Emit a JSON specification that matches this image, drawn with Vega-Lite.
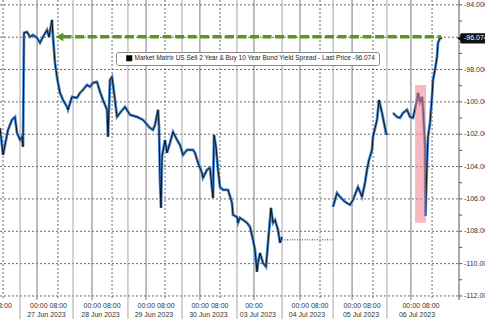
{
  "$schema": "https://vega.github.io/schema/vega-lite/v6.json",
  "width": 459,
  "height": 300,
  "autosize": "none",
  "padding": {"left": 0, "top": 0, "right": 26, "bottom": 19},
  "background": "#ffffff",
  "config": {"view": {"stroke": null}, "font": "Liberation Sans"},
  "datasets": {
    "series": [
      {"t": -9.2, "v": -101.61, "s": "A"}, {"t": -7.8, "v": -103.28, "s": "A"}, {"t": -6.45, "v": -102.35, "s": "A"},
      {"t": -5.53, "v": -101.73, "s": "A"}, {"t": -3.7, "v": -101.11, "s": "A"}, {"t": -2.32, "v": -100.93, "s": "A"},
      {"t": -1.4, "v": -101.92, "s": "A"}, {"t": 0.0, "v": -102.35, "s": "A"}, {"t": 0.89, "v": -102.16, "s": "A"},
      {"t": 1.35, "v": -102.78, "s": "A"}, {"t": 1.81, "v": -95.73, "s": "A"}, {"t": 3.19, "v": -95.67, "s": "A"},
      {"t": 4.56, "v": -95.98, "s": "A"}, {"t": 5.94, "v": -95.86, "s": "A"}, {"t": 7.77, "v": -96.04, "s": "A"},
      {"t": 9.15, "v": -96.35, "s": "A"}, {"t": 10.52, "v": -95.98, "s": "A"}, {"t": 12.36, "v": -95.55, "s": "A"},
      {"t": 13.28, "v": -95.98, "s": "A"}, {"t": 14.65, "v": -94.93, "s": "A"}, {"t": 15.11, "v": -95.98, "s": "A"},
      {"t": 16.03, "v": -97.59, "s": "A"}, {"t": 16.95, "v": -98.45, "s": "A"}, {"t": 17.41, "v": -98.82, "s": "A"},
      {"t": 18.32, "v": -99.44, "s": "A"}, {"t": 19.7, "v": -99.88, "s": "A"}, {"t": 21.53, "v": -100.31, "s": "A"},
      {"t": 22.0, "v": -100.49, "s": "A"}, {"t": 23.83, "v": -99.69, "s": "A"}, {"t": 26.12, "v": -99.75, "s": "A"},
      {"t": 27.5, "v": -99.44, "s": "A"}, {"t": 28.87, "v": -99.26, "s": "A"}, {"t": 30.71, "v": -98.95, "s": "A"},
      {"t": 32.08, "v": -99.07, "s": "A"}, {"t": 33.46, "v": -98.82, "s": "A"}, {"t": 35.3, "v": -98.76, "s": "A"},
      {"t": 36.67, "v": -99.38, "s": "A"}, {"t": 38.05, "v": -99.88, "s": "A"}, {"t": 39.88, "v": -100.49, "s": "A"},
      {"t": 40.34, "v": -102.16, "s": "A"}, {"t": 41.26, "v": -98.64, "s": "A"}, {"t": 42.18, "v": -98.45, "s": "A"},
      {"t": 43.55, "v": -99.88, "s": "A"}, {"t": 44.47, "v": -100.93, "s": "A"}, {"t": 45.85, "v": -100.68, "s": "A"},
      {"t": 48.14, "v": -100.31, "s": "A"}, {"t": 50.43, "v": -100.8, "s": "A"}, {"t": 53.64, "v": -100.93, "s": "A"},
      {"t": 56.39, "v": -101.11, "s": "A"}, {"t": 59.61, "v": -101.61, "s": "A"}, {"t": 60.98, "v": -101.73, "s": "A"},
      {"t": 61.9, "v": -101.42, "s": "A"}, {"t": 63.28, "v": -100.49, "s": "A"}, {"t": 63.74, "v": -101.54, "s": "A"},
      {"t": 64.19, "v": -104.82, "s": "A"}, {"t": 64.65, "v": -106.55, "s": "A"}, {"t": 65.11, "v": -103.4, "s": "A"},
      {"t": 66.49, "v": -102.35, "s": "A"}, {"t": 67.41, "v": -103.15, "s": "A"}, {"t": 68.78, "v": -102.53, "s": "A"},
      {"t": 70.16, "v": -101.85, "s": "A"}, {"t": 71.99, "v": -102.35, "s": "A"}, {"t": 73.37, "v": -102.66, "s": "A"},
      {"t": 74.74, "v": -103.28, "s": "A"}, {"t": 76.58, "v": -102.97, "s": "A"}, {"t": 79.33, "v": -102.97, "s": "A"},
      {"t": 80.25, "v": -103.15, "s": "A"}, {"t": 81.63, "v": -103.77, "s": "A"}, {"t": 83.46, "v": -104.39, "s": "A"},
      {"t": 83.92, "v": -104.7, "s": "A"}, {"t": 85.76, "v": -104.2, "s": "A"}, {"t": 87.13, "v": -104.08, "s": "A"},
      {"t": 88.51, "v": -105.94, "s": "A"}, {"t": 88.97, "v": -102.04, "s": "A"}, {"t": 89.88, "v": -102.78, "s": "A"},
      {"t": 90.8, "v": -104.2, "s": "A"}, {"t": 91.72, "v": -105.26, "s": "A"}, {"t": 93.09, "v": -105.44, "s": "A"},
      {"t": 95.39, "v": -105.44, "s": "A"}, {"t": 97.22, "v": -106.24, "s": "A"}, {"t": 97.68, "v": -106.99, "s": "A"},
      {"t": 99.52, "v": -107.11, "s": "A"}, {"t": 99.98, "v": -107.48, "s": "A"}, {"t": 100.89, "v": -107.17, "s": "A"},
      {"t": 102.27, "v": -107.3, "s": "A"}, {"t": 104.1, "v": -107.48, "s": "A"}, {"t": 105.48, "v": -107.73, "s": "A"},
      {"t": 106.86, "v": -108.53, "s": "A"}, {"t": 107.77, "v": -109.15, "s": "A"}, {"t": 108.69, "v": -110.51, "s": "A"},
      {"t": 109.15, "v": -109.96, "s": "A"}, {"t": 110.07, "v": -109.34, "s": "A"}, {"t": 111.44, "v": -109.96, "s": "A"},
      {"t": 112.82, "v": -110.2, "s": "A"}, {"t": 113.74, "v": -108.72, "s": "A"}, {"t": 115.11, "v": -106.55, "s": "A"},
      {"t": 116.03, "v": -107.48, "s": "A"}, {"t": 116.95, "v": -107.3, "s": "A"}, {"t": 118.32, "v": -107.91, "s": "A"},
      {"t": 119.24, "v": -108.72, "s": "A"}, {"t": 120.16, "v": -108.35, "s": "A"},
      {"t": 143.56, "v": -106.49, "s": "B"}, {"t": 145.39, "v": -105.63, "s": "B"}, {"t": 146.77, "v": -105.87, "s": "B"},
      {"t": 149.06, "v": -106.18, "s": "B"}, {"t": 151.35, "v": -106.37, "s": "B"}, {"t": 152.73, "v": -106.06, "s": "B"},
      {"t": 155.02, "v": -105.26, "s": "B"}, {"t": 156.86, "v": -105.87, "s": "B"}, {"t": 158.23, "v": -105.01, "s": "B"},
      {"t": 159.15, "v": -104.2, "s": "B"}, {"t": 160.07, "v": -103.59, "s": "B"}, {"t": 161.44, "v": -102.97, "s": "B"},
      {"t": 161.9, "v": -102.16, "s": "B"}, {"t": 163.74, "v": -101.11, "s": "B"}, {"t": 164.66, "v": -99.88, "s": "B"},
      {"t": 166.03, "v": -100.68, "s": "B"}, {"t": 166.49, "v": -100.99, "s": "B"}, {"t": 167.87, "v": -101.92, "s": "B"},
      {"t": 168.33, "v": -102.04, "s": "B"},
      {"t": 171.08, "v": -100.68, "s": "C"}, {"t": 172.91, "v": -100.93, "s": "C"}, {"t": 174.29, "v": -100.99, "s": "C"},
      {"t": 175.67, "v": -100.68, "s": "C"}, {"t": 177.5, "v": -100.49, "s": "C"}, {"t": 178.88, "v": -100.93, "s": "C"},
      {"t": 180.25, "v": -100.99, "s": "C"}, {"t": 182.09, "v": -99.88, "s": "C"}, {"t": 182.55, "v": -99.44, "s": "C"},
      {"t": 183.46, "v": -100.0, "s": "C"}, {"t": 184.38, "v": -99.69, "s": "C"}, {"t": 184.84, "v": -100.31, "s": "C"},
      {"t": 185.76, "v": -102.78, "s": "C"}, {"t": 185.98, "v": -107.05, "s": "C"}, {"t": 186.21, "v": -105.87, "s": "C"},
      {"t": 186.67, "v": -103.77, "s": "C"}, {"t": 187.13, "v": -102.16, "s": "C"}, {"t": 188.05, "v": -101.3, "s": "C"},
      {"t": 188.97, "v": -99.69, "s": "C"}, {"t": 189.43, "v": -98.64, "s": "C"}, {"t": 190.34, "v": -98.02, "s": "C"},
      {"t": 191.26, "v": -97.22, "s": "C"}, {"t": 191.72, "v": -96.35, "s": "C"}, {"t": 192.64, "v": -96.04, "s": "C"},
      {"t": 193.56, "v": -96.074, "s": "C"}
    ],
    "grid": [
      {"t": 0.0, "kind": "sep"}, {"t": 24.3, "kind": "sep"}, {"t": 49.5, "kind": "sep"}, {"t": 74.3, "kind": "sep"},
      {"t": 99.5, "kind": "sep"}, {"t": 120.2, "kind": "sep"}, {"t": 143.6, "kind": "sep"}, {"t": 168.3, "kind": "sep"},
      {"t": 7.8, "kind": "midnight"}, {"t": 33.0, "kind": "midnight"}, {"t": 57.8, "kind": "midnight"}, {"t": 82.5, "kind": "midnight"},
      {"t": 107.3, "kind": "midnight"}, {"t": 128.4, "kind": "midnight"}, {"t": 152.3, "kind": "midnight"}, {"t": 179.3, "kind": "midnight"},
      {"t": -7.8, "kind": "eight"}, {"t": 17.4, "kind": "eight"}, {"t": 42.2, "kind": "eight"}, {"t": 66.5, "kind": "eight"},
      {"t": 91.7, "kind": "eight"}, {"t": 137.6, "kind": "eight"}, {"t": 161.9, "kind": "eight"}, {"t": 189.0, "kind": "eight"}
    ],
    "yticks": [
      {"v": -112, "major": true, "label": "-112.000"}, {"v": -111, "major": false, "label": ""},
      {"v": -110, "major": true, "label": "-110.000"}, {"v": -109, "major": false, "label": ""},
      {"v": -108, "major": true, "label": "-108.000"}, {"v": -107, "major": false, "label": ""},
      {"v": -106, "major": true, "label": "-106.000"}, {"v": -105, "major": false, "label": ""},
      {"v": -104, "major": true, "label": "-104.000"}, {"v": -103, "major": false, "label": ""},
      {"v": -102, "major": true, "label": "-102.000"}, {"v": -101, "major": false, "label": ""},
      {"v": -100, "major": true, "label": "-100.000"}, {"v": -99, "major": false, "label": ""},
      {"v": -98, "major": true, "label": "-98.000"}, {"v": -97, "major": false, "label": ""},
      {"v": -96, "major": true, "label": "-96.000"}, {"v": -95, "major": false, "label": ""},
      {"v": -94, "major": true, "label": "-94.000"}
    ],
    "xlabels": [
      {"t": -7.8, "row": 1, "text": "08:00"},
      {"t": 13.05, "row": 1, "text": "00:00 08:00"}, {"t": 12.1, "row": 2, "text": "27 Jun 2023"},
      {"t": 37.6, "row": 1, "text": "00:00 08:00"}, {"t": 36.9, "row": 2, "text": "28 Jun 2023"},
      {"t": 62.4, "row": 1, "text": "00:00 08:00"}, {"t": 61.4, "row": 2, "text": "29 Jun 2023"},
      {"t": 87.1, "row": 1, "text": "00:00 08:00"}, {"t": 86.4, "row": 2, "text": "30 Jun 2023"},
      {"t": 107.3, "row": 1, "text": "00:00"}, {"t": 109.1, "row": 2, "text": "03 Jul 2023"},
      {"t": 133.0, "row": 1, "text": "00:00 08:00"}, {"t": 131.6, "row": 2, "text": "04 Jul 2023"},
      {"t": 156.9, "row": 1, "text": "00:00 08:00"}, {"t": 156.4, "row": 2, "text": "05 Jul 2023"},
      {"t": 183.9, "row": 1, "text": "00:00 08:00"}, {"t": 182.1, "row": 2, "text": "06 Jul 2023"}
    ],
    "notes": [
      {"part": "gap", "t": 120.16, "t2": 143.56, "v": -108.53, "v2": -108.53},
      {"part": "arrow", "t": 19.5, "t2": 193.1, "v": -95.98, "v2": -95.98},
      {"part": "head", "t": 18.1, "t2": 18.1, "v": -95.98, "v2": -95.98},
      {"part": "box", "t": 181.2, "t2": 186.2, "v": -98.95, "v2": -107.48},
      {"part": "last", "t": 201.35, "t2": 201.35, "v": -96.074, "v2": -96.074}
    ]
  },
  "layer": [
    {
      "data": {"name": "notes"},
      "transform": [{"filter": "datum.part === 'gap'"}],
      "mark": {"type": "rule", "color": "#333333", "strokeWidth": 1, "strokeDash": [1, 1.5]},
      "encoding": {
        "x": {"field": "t", "type": "quantitative", "scale": {"domain": [-9.2, 201.35], "nice": false, "zero": false}, "axis": null},
        "x2": {"field": "t2"},
        "y": {"field": "v", "type": "quantitative", "scale": {"domain": [-112.25, -93.7], "nice": false, "zero": false}, "axis": null}
      }
    },
    {
      "data": {"name": "yticks"},
      "transform": [{"filter": "datum.major"}],
      "mark": {"type": "rule", "color": "#6a6a6a", "strokeWidth": 1, "strokeDash": [2, 2]},
      "encoding": {
        "x": {"datum": -9.2, "type": "quantitative", "axis": null},
        "x2": {"datum": 201.35},
        "y": {"field": "v", "type": "quantitative", "axis": null}
      }
    },
    {
      "data": {"name": "grid"},
      "transform": [{"filter": "datum.kind === 'sep'"}],
      "mark": {"type": "rule", "color": "#a6a6a6", "strokeWidth": 1, "clip": false},
      "encoding": {
        "x": {"field": "t", "type": "quantitative", "axis": null},
        "y": {"datum": -93.7, "type": "quantitative", "axis": null},
        "y2": {"datum": -113.45}
      }
    },
    {
      "data": {"name": "grid"},
      "transform": [{"filter": "datum.kind === 'midnight'"}],
      "mark": {"type": "rule", "color": "#7a7a7a", "strokeWidth": 1},
      "encoding": {
        "x": {"field": "t", "type": "quantitative", "axis": null},
        "y": {"datum": -93.7, "type": "quantitative", "axis": null},
        "y2": {"datum": -112.25}
      }
    },
    {
      "data": {"name": "grid"},
      "transform": [{"filter": "datum.kind === 'eight'"}],
      "mark": {"type": "rule", "color": "#6a6a6a", "strokeWidth": 1, "strokeDash": [2, 2]},
      "encoding": {
        "x": {"field": "t", "type": "quantitative", "axis": null},
        "y": {"datum": -93.7, "type": "quantitative", "axis": null},
        "y2": {"datum": -112.25}
      }
    },
    {
      "data": {"name": "series"},
      "mark": {"type": "line", "color": "#4a8ad4", "strokeWidth": 2.8},
      "encoding": {
        "x": {"field": "t", "type": "quantitative", "axis": null},
        "y": {"field": "v", "type": "quantitative", "axis": null},
        "detail": {"field": "s"}
      }
    },
    {
      "data": {"name": "series"},
      "mark": {"type": "line", "strokeWidth": 1},
      "encoding": {
        "x": {"field": "t", "type": "quantitative", "axis": null},
        "y": {"field": "v", "type": "quantitative", "axis": null},
        "detail": {"field": "s"},
        "color": {
          "datum": "Market Matrix US Sell 2 Year & Buy 10 Year Bond Yield Spread - Last Price -96.074",
          "scale": {"range": ["#111111"]},
          "legend": {
            "title": null, "orient": "none", "legendX": 116, "legendY": 52,
            "fillColor": "#ffffff", "strokeColor": "#8a8a8a", "cornerRadius": 2, "padding": 3,
            "symbolType": "square", "symbolSize": 36, "symbolFillColor": "#000000", "symbolStrokeColor": "#000000",
            "symbolStrokeWidth": 0, "symbolOffset": 7, "labelOffset": 2,
            "labelFont": "Liberation Sans", "labelFontSize": 6.5, "labelColor": "#222222", "labelLimit": 400
          }
        }
      }
    },
    {
      "data": {"name": "notes"},
      "transform": [{"filter": "datum.part === 'box'"}],
      "mark": {"type": "rect", "color": "#ef7f8a", "opacity": 0.55},
      "encoding": {
        "x": {"field": "t", "type": "quantitative", "axis": null},
        "x2": {"field": "t2"},
        "y": {"field": "v", "type": "quantitative", "axis": null},
        "y2": {"field": "v2"}
      }
    },
    {
      "data": {"name": "notes"},
      "transform": [{"filter": "datum.part === 'arrow'"}],
      "mark": {"type": "rule", "color": "#5e9420", "strokeWidth": 3.5, "strokeDash": [9, 3.5]},
      "encoding": {
        "x": {"field": "t", "type": "quantitative", "axis": null},
        "x2": {"field": "t2"},
        "y": {"field": "v", "type": "quantitative", "axis": null}
      }
    },
    {
      "data": {"name": "notes"},
      "transform": [{"filter": "datum.part === 'head'"}],
      "mark": {"type": "point", "shape": "triangle-left", "filled": true, "color": "#5e9420", "size": 80, "opacity": 1},
      "encoding": {
        "x": {"field": "t", "type": "quantitative", "axis": null},
        "y": {"field": "v", "type": "quantitative", "axis": null}
      }
    },
    {
      "data": {"name": "xlabels"},
      "transform": [{"filter": "datum.row === 1"}],
      "mark": {"type": "text", "font": "Liberation Sans", "fontSize": 7, "color": "#333333", "baseline": "middle", "clip": false},
      "encoding": {
        "x": {"field": "t", "type": "quantitative", "axis": null},
        "y": {"datum": -112.62, "type": "quantitative", "axis": null},
        "text": {"field": "text"}
      }
    },
    {
      "data": {"name": "xlabels"},
      "transform": [{"filter": "datum.row === 2"}],
      "mark": {"type": "text", "font": "Liberation Sans", "fontSize": 7, "color": "#333333", "baseline": "middle", "clip": false},
      "encoding": {
        "x": {"field": "t", "type": "quantitative", "axis": null},
        "y": {"datum": -113.17, "type": "quantitative", "axis": null},
        "text": {"field": "text"}
      }
    },
    {
      "data": {"name": "notes"},
      "transform": [{"filter": "datum.part === 'last'"}],
      "mark": {"type": "rule", "color": "#555555", "strokeWidth": 1, "clip": false},
      "encoding": {
        "x": {"field": "t", "type": "quantitative", "axis": null},
        "y": {"datum": -93.7, "type": "quantitative", "axis": null},
        "y2": {"datum": -112.25}
      }
    },
    {
      "data": {"name": "yticks"},
      "mark": {"type": "rule", "color": "#555555", "strokeWidth": 1, "clip": false},
      "encoding": {
        "x": {"datum": 201.35, "type": "quantitative", "axis": null},
        "x2": {"datum": 202.75},
        "y": {"field": "v", "type": "quantitative", "axis": null}
      }
    },
    {
      "data": {"name": "yticks"},
      "transform": [{"filter": "datum.major"}],
      "mark": {"type": "text", "font": "Liberation Sans", "fontSize": 7, "color": "#333333", "align": "left", "baseline": "middle", "dx": 5, "clip": false},
      "encoding": {
        "x": {"datum": 201.35, "type": "quantitative", "axis": null},
        "y": {"field": "v", "type": "quantitative", "axis": null},
        "text": {"field": "label"}
      }
    },
    {
      "data": {"name": "notes"},
      "transform": [{"filter": "datum.part === 'last'"}],
      "mark": {"type": "rect", "color": "#111111", "cornerRadius": 1.5, "clip": false},
      "encoding": {
        "x": {"datum": 201.9, "type": "quantitative", "axis": null},
        "x2": {"datum": 214},
        "y": {"datum": -95.76, "type": "quantitative", "axis": null},
        "y2": {"datum": -96.39}
      }
    },
    {
      "data": {"name": "notes"},
      "transform": [{"filter": "datum.part === 'last'"}],
      "mark": {"type": "point", "shape": "triangle-left", "filled": true, "color": "#111111", "size": 22, "opacity": 1, "clip": false, "dx": 2},
      "encoding": {
        "x": {"field": "t", "type": "quantitative", "axis": null},
        "y": {"field": "v", "type": "quantitative", "axis": null}
      }
    },
    {
      "data": {"name": "notes"},
      "transform": [{"filter": "datum.part === 'last'"}],
      "mark": {"type": "text", "font": "Liberation Sans", "fontSize": 7, "color": "#ffffff", "align": "left", "baseline": "middle", "dx": 5, "clip": false},
      "encoding": {
        "x": {"field": "t", "type": "quantitative", "axis": null},
        "y": {"field": "v", "type": "quantitative", "axis": null},
        "text": {"value": "-96.074"}
      }
    }
  ]
}
